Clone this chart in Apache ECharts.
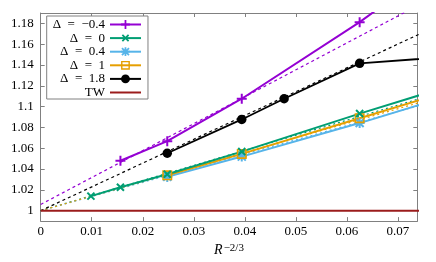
<!DOCTYPE html>
<html>
<head>
<meta charset="utf-8">
<script src="https://cdn.jsdelivr.net/npm/echarts@6/dist/echarts.min.js"></script>
<style>html,body{margin:0;padding:0;background:#fff}#c{width:436px;height:262px}</style>
</head>
<body>
<div id="c"></div>
<script>
// Data
const xTicks = [0, 0.01, 0.02, 0.03, 0.04, 0.05, 0.06, 0.07];
const yTicks = [1, 1.02, 1.04, 1.06, 1.08, 1.1, 1.12, 1.14, 1.16, 1.18];

const xM04 = [0.015625, 0.0248, 0.0394, 0.0625, 0.0992];
const yM04 = [1.048, 1.0668, 1.1076, 1.1812, 1.312];

const x0 = [0.00984, 0.015625, 0.0248, 0.0394, 0.0625, 0.0992];
const y0 = [1.014, 1.0225, 1.035, 1.0568, 1.0933, 1.1487];

const x04 = [0.0248, 0.0394, 0.0625, 0.0992];
const y04 = [1.0325, 1.052, 1.0842, 1.139];

const x1 = [0.0248, 0.0394, 0.0625, 0.0992];
const y1 = [1.034, 1.0546, 1.0889, 1.1435];

const x18 = [0.0248, 0.0394, 0.0477, 0.0625, 0.0992];
const y18 = [1.0552, 1.0877, 1.1076, 1.1416, 1.1549];

const xTW = [0, 0.1];
const yTW = [1, 1];

// fit lines (endpoints)
const xFit = [0, 0.08];
const fitM04 = [1.006, 1.213];
const fit0 = [1.0, 1.116];
const fit04 = [1.0, 1.109];
const fit1 = [1.0, 1.112];
const fit18 = [1.0, 1.183];

const names = ['Δ = −0.4', 'Δ = 0', 'Δ = 0.4', 'Δ = 1', 'Δ = 1.8', 'TW'];
const colors = ['#9400d3', '#009e73', '#56b4e9', '#e69f00', '#000000', '#9b1c1c'];

const zip = (xs, ys) => xs.map((x, i) => [x, ys[i]]);

const PLUS = 'path://M4,0H6V4H10V6H6V10H4V6H0V4H4Z';
const STAR = 'path://M4,0H6V4H10V6H6V10H4V6H0V4H4Z M0.29,1.71L1.71,0.29L9.71,8.29L8.29,9.71Z M8.29,0.29L9.71,1.71L1.71,9.71L0.29,8.29Z';
const SQUARE = 'path://M0,0H10V10H0Z M1.6,1.6V8.4H8.4V1.6Z';

const FONT = 'Liberation Serif';
const frame = '#808080';

function dataSeries(i, xs, ys, symbol, size, rot, lw) {
  return {
    name: names[i], type: 'line', data: zip(xs, ys),
    symbol: symbol, symbolSize: size, symbolRotate: rot || 0, showSymbol: true,
    itemStyle: { color: colors[i] },
    lineStyle: { color: colors[i], width: lw || 2 },
    z: 5, animation: false
  };
}
function fitSeries(i, ys, dash) {
  return {
    name: 'fit' + i, type: 'line', data: zip(xFit, ys), symbol: 'none',
    lineStyle: { color: colors[i], width: 1.2, type: dash },
    z: 3, animation: false, silent: true
  };
}

const legendData = names.map((n, i) => i === 5 ? { name: n, itemStyle: { opacity: 0 } } : { name: n });

const chart = echarts.init(document.getElementById('c'), null, { renderer: 'canvas' });
chart.setOption({
  backgroundColor: '#fff',
  animation: false,
  textStyle: { fontFamily: FONT },
  grid: { left: 40.7, right: 18.7, top: 13, bottom: 36, containLabel: false },
  legend: {
    data: legendData, orient: 'vertical', align: 'right',
    left: 46.7, top: 16, padding: [2, 6, 0, 6],
    itemWidth: 31, itemHeight: 11, itemGap: 0.6,
    borderColor: frame, borderWidth: 1, backgroundColor: '#fff',
    formatter: function (n) { return n.replace(/ = /, '\u2002=\u2002'); },
    textStyle: { fontFamily: FONT, fontSize: 13, color: '#000', lineHeight: 13 },
    z: 10
  },
  xAxis: [{
    type: 'value', min: 0, max: 0.0738, interval: 0.01, position: 'bottom',
    name: '{i|R}{s|−2/3}', nameLocation: 'middle', nameGap: 17,
    nameTextStyle: {
      fontFamily: FONT, color: '#000',
      rich: {
        i: { fontFamily: FONT, fontStyle: 'italic', fontSize: 14, color: '#000' },
        s: { fontFamily: FONT, fontSize: 11, color: '#000', verticalAlign: 'top', padding: [0, 0, 2, 1] }
      }
    },
    axisLine: { show: true, onZero: false, lineStyle: { color: frame, width: 1 } },
    axisTick: { show: true, inside: true, length: 4, lineStyle: { color: frame } },
    axisLabel: { fontFamily: FONT, fontSize: 13, color: '#000', margin: 4, showMaxLabel: false },
    splitLine: { show: false }
  }, {
    type: 'value', min: 0, max: 0.0738, interval: 0.01, position: 'top',
    axisLine: { show: true, onZero: false, lineStyle: { color: frame, width: 1 } },
    axisTick: { show: true, inside: true, length: 4, lineStyle: { color: frame } },
    axisLabel: { show: false }, splitLine: { show: false }
  }],
  yAxis: [{
    type: 'value', min: 0.99, max: 1.19, splitNumber: 10, position: 'left',
    axisLine: { show: true, onZero: false, lineStyle: { color: frame, width: 1 } },
    axisTick: { show: true, inside: true, length: 4, lineStyle: { color: frame } },
    axisLabel: { fontFamily: FONT, fontSize: 13, color: '#000', margin: 7, showMinLabel: false, showMaxLabel: false },
    splitLine: { show: false }
  }, {
    type: 'value', min: 0.99, max: 1.19, splitNumber: 10, position: 'right',
    axisLine: { show: true, onZero: false, lineStyle: { color: frame, width: 1 } },
    axisTick: { show: true, inside: true, length: 4, lineStyle: { color: frame } },
    axisLabel: { show: false }, splitLine: { show: false }
  }],
  series: [
    fitSeries(0, fitM04, [3, 3]),
    fitSeries(1, fit0, [2, 3]),
    fitSeries(2, fit04, [2, 3]),
    fitSeries(3, fit1, [2, 3]),
    fitSeries(4, fit18, [3, 3]),
    {
      name: names[5], type: 'line', data: zip(xTW, yTW), symbol: 'none',
      itemStyle: { color: colors[5] }, lineStyle: { color: colors[5], width: 2 },
      z: 4, animation: false
    },
    dataSeries(0, xM04, yM04, PLUS, 10, 0, 2),
    dataSeries(2, x04, y04, STAR, 10, 0, 2),
    dataSeries(3, x1, y1, SQUARE, 10, 0, 2),
    dataSeries(1, x0, y0, PLUS, 10, 45, 2),
    dataSeries(4, x18, y18, 'circle', 9.5, 0, 1.8)
  ]
});
</script>
</body>
</html>
